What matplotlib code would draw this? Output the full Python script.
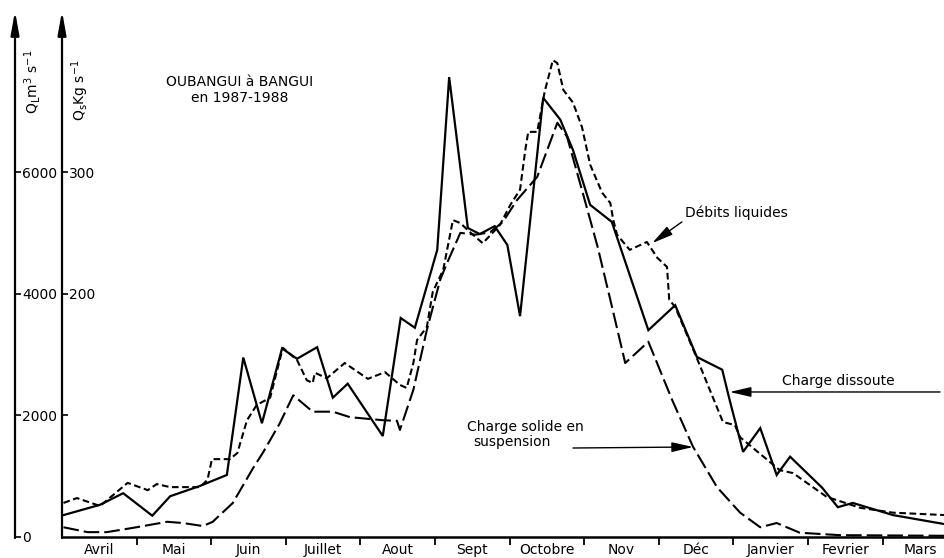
import matplotlib
matplotlib.use('Agg')
import matplotlib.pyplot as plt

# ---------------- data ----------------
months = ['Avril', 'Mai', 'Juin', 'Juillet', 'Aout', 'Sept', 'Octobre',
          'Nov', 'Déc', 'Janvier', 'Fevrier', 'Mars']

# Débits liquides (m3/s), x in months from 1 April
debits_x = [0.02, 0.20, 0.51, 0.88, 1.15, 1.27, 1.45, 1.85, 1.95, 2.01, 2.25, 2.35, 2.48, 2.61,
            2.79, 2.96, 3.15, 3.28, 3.36, 3.39, 3.55, 3.79, 4.10, 4.33, 4.53, 4.62, 4.71,
            4.76, 4.89, 4.97, 5.11, 5.24, 5.34, 5.47, 5.64, 5.78, 5.87, 6.01, 6.14, 6.21,
            6.25, 6.37, 6.47, 6.58, 6.64, 6.72, 6.85, 6.97, 7.08, 7.24, 7.35, 7.39, 7.44,
            7.61, 7.84, 7.98, 8.11, 8.14, 8.22, 8.51, 8.86, 9.02, 9.09, 9.62, 9.80, 10.25,
            10.70, 11.14, 11.84]
debits_q = [560, 640, 510, 890, 770, 870, 820, 820, 940, 1280, 1280, 1380, 1920, 2170,
            2290, 3110, 2910, 2580, 2530, 2700, 2610, 2860, 2600, 2710, 2500, 2450, 2860,
            3240, 3450, 4030, 4390, 5210, 5160, 5010, 4830, 5010, 5130, 5460, 5710, 6360,
            6660, 6660, 7320, 7840, 7790, 7350, 7140, 6740, 6120, 5660, 5490, 5210, 4970,
            4720, 4850, 4590, 4440, 3900, 3780, 2940, 1890, 1840, 1640, 1100, 1050, 660,
            480, 400, 360]

# Charge dissoute (kg/s)
dissoute_x = [0.02, 0.51, 0.82, 1.21, 1.45, 1.85, 2.21, 2.43, 2.68, 2.95, 3.15, 3.42, 3.63,
              3.83, 4.30, 4.54, 4.73, 5.03, 5.19, 5.44, 5.60, 5.80, 5.97, 6.14, 6.45, 6.68,
              6.85, 7.08, 7.37, 7.86, 8.22, 8.51, 8.85, 8.95, 9.13, 9.36, 9.58, 9.76, 10.19,
              10.40, 10.60, 11.14, 11.84]
dissoute_q = [18, 26.5, 36, 17.5, 33.5, 42, 51, 147.5, 93.5, 155, 146.5, 156, 114.5,
              126, 83, 180, 172, 236, 378, 254, 249, 255.5, 240, 181.5, 361, 343,
              318, 273, 259, 170, 190.5, 148, 137.5, 112.5, 70, 89.5, 51, 66, 40.5,
              24.5, 28, 18, 10.5]

# Charge solide en suspension (kg/s)
solide_x = [0.02, 0.34, 0.60, 0.95, 1.41, 1.62, 1.89, 2.02, 2.29, 2.56, 2.69, 2.92, 3.10,
            3.36, 3.63, 3.86, 4.30, 4.49, 4.53, 4.71, 4.89, 5.07, 5.16, 5.34, 5.54, 5.74,
            5.91, 6.10, 6.37, 6.64, 6.77, 6.98, 7.18, 7.35, 7.55, 7.86, 8.18, 8.46, 8.78,
            9.09, 9.36, 9.58, 9.89, 10.43, 11.84]
solide_q = [8, 4, 4, 7.5, 12.5, 11.5, 9, 12.5, 28, 56.5, 69, 93.5, 116.5,
            103, 103, 98.5, 96, 95.5, 88, 121, 170, 211.5, 225, 250, 248.5, 250.5,
            259, 277, 296, 340.5, 329, 283, 238.5, 195, 143, 160.5, 112.5, 74, 41,
            20, 8, 11.5, 3.5, 1.5, 1]

ql_ticks = [0, 2000, 4000, 6000]
ql_labels = ['0', '2000', '4000', '6000']
qs_ticks = [100, 200, 300]
qs_labels = ['', '200', '300']

# ---------------- layout ----------------
W, H = 945, 558
fig = plt.figure(figsize=(W / 100, H / 100), dpi=100)
X0, X1, Y0, Y1 = 62, 945, 537, 13
MONTH_PX = 74.6
QL_TOP = (Y0 - Y1) * 1000 / 60.83
QS_TOP = QL_TOP / 20
rect = [X0 / W, 1 - Y0 / H, (X1 - X0) / W, (Y0 - Y1) / H]

ax = fig.add_axes(rect)
ax.set_xlim(0, (X1 - X0) / MONTH_PX)
ax.set_ylim(0, QL_TOP)
for s in ['top', 'right', 'left']:
    ax.spines[s].set_visible(False)
ax.spines['bottom'].set_linewidth(1.8)
ax.set_yticks([])
ax.set_xticks(range(1, 12))
ax.set_xticklabels([''] * 11)
ax.set_xticks([k + 0.5 for k in range(12)], minor=True)
ax.set_xticklabels(months, minor=True)
ax.tick_params(axis='x', which='major', direction='out', length=6, width=1.3)
ax.tick_params(axis='x', which='minor', length=0, pad=4.5, labelsize=10)
ax.patch.set_visible(False)

ax_s = ax.twinx()
ax_s.set_ylim(0, QS_TOP)
ax_s.axis('off')

# lines
ax.plot(debits_x, debits_q, color='black', lw=1.5, dashes=(3.2, 1.7))
ax_s.plot(dissoute_x, dissoute_q, color='black', lw=1.6, solid_joinstyle='miter')
ax_s.plot(solide_x, solide_q, color='black', lw=1.5, dashes=(7.5, 2.4))

# tick axes
ax_ql = fig.add_axes([0, 1 - Y0 / H, 15 / W, (Y0 - Y1) / H])
ax_ql.set_ylim(0, QL_TOP)
ax_qs = fig.add_axes([0, 1 - Y0 / H, X0 / W, (Y0 - Y1) / H])
ax_qs.set_ylim(0, QS_TOP)
for a, t, l in [(ax_ql, ql_ticks, ql_labels), (ax_qs, qs_ticks, qs_labels)]:
    for s in a.spines.values():
        s.set_visible(False)
    a.patch.set_visible(False)
    a.set_xticks([])
    a.yaxis.tick_right()
    a.set_yticks(t)
    a.set_yticklabels(l)
    a.tick_params(axis='y', direction='out', length=4.5, width=1.2, pad=0.5, labelsize=10)

# overlay in pixel coordinates for axis arrows and titles
ov = fig.add_axes([0, 0, 1, 1])
ov.set_xlim(0, W)
ov.set_ylim(H, 0)
ov.axis('off')
for xa in (15, X0):
    ov.annotate('', xy=(xa, 11), xytext=(xa, Y0 + 1),
                arrowprops=dict(arrowstyle='-|>,head_length=1.4,head_width=0.25',
                                lw=1.6, color='black', shrinkA=0, shrinkB=0,
                                mutation_scale=10))
ov.text(33, 82, r'Q$_\mathregular{L}$m$^\mathregular{3}$ s$^\mathregular{-1}$',
        rotation=90, ha='center', va='center', fontsize=10)
ov.text(80, 90, r'Q$_\mathregular{s}$Kg s$^\mathregular{-1}$',
        rotation=90, ha='center', va='center', fontsize=10)
ov.text(240, 82, 'OUBANGUI à BANGUI', ha='center', va='center', fontsize=10)
ov.text(240, 98, 'en 1987-1988', ha='center', va='center', fontsize=10)

# annotations (data coordinates, QL scale)
arrow = dict(arrowstyle='-|>,head_length=1.3,head_width=0.3', lw=1.0, color='black',
             shrinkA=0, shrinkB=0, mutation_scale=10)
ax.text(8.35, 5330, 'Débits liquides', ha='left', va='center', fontsize=10)
ax.annotate('', xy=(7.91, 4830), xytext=(8.31, 5180), arrowprops=arrow)
ax.text(9.65, 2450, 'Charge dissoute', ha='left', va='bottom', fontsize=10)
ax.annotate('', xy=(8.95, 2384), xytext=(11.77, 2384), arrowprops=arrow)
ax.text(5.43, 1808, 'Charge solide en', ha='left', va='center', fontsize=10)
ax.text(5.51, 1562, 'suspension', ha='left', va='center', fontsize=10)
ax.annotate('', xy=(8.46, 1480), xytext=(6.85, 1463), arrowprops=arrow)

fig.savefig('out.png', dpi=100)
